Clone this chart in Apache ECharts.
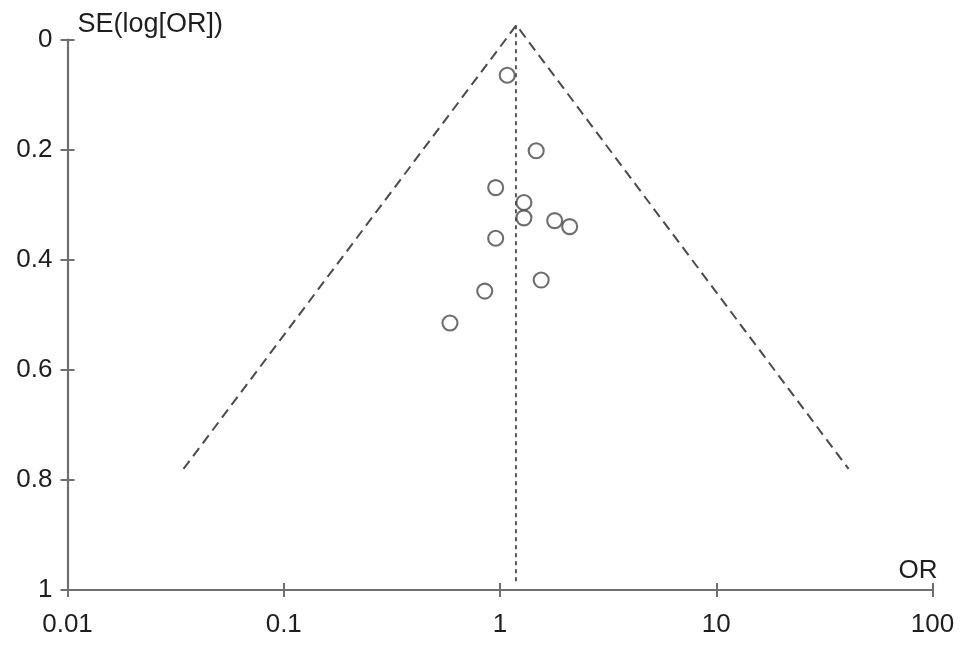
<!DOCTYPE html>
<html>
<head>
<meta charset="utf-8">
<script src="https://cdn.jsdelivr.net/npm/echarts@6/dist/echarts.min.js"></script>
<style>
html,body{margin:0;padding:0;background:#fff;}
#chart{width:969px;height:650px;}
</style>
</head>
<body>
<div id="chart"></div>
<script>
// Study estimates
const studyOR = [1.08, 1.47, 0.955, 1.29, 1.29, 1.79, 2.10, 0.955, 1.55, 0.85, 0.587];
const studySE = [0.065, 0.202, 0.269, 0.296, 0.324, 0.329, 0.340, 0.361, 0.437, 0.457, 0.515];
// Pooled estimate (vertical dotted line)
const pooledOR = 1.185;
const pooledLineSE = [-0.026, 0.99];
// Funnel (pseudo confidence limits)
const funnelOR = [0.0344, 1.19, 40.9];
const funnelSE = [0.78, -0.026, 0.78];
// Axis ticks
const xTicks = [0.01, 0.1, 1, 10, 100];
const yTicks = [0, 0.2, 0.4, 0.6, 0.8, 1];
const xName = 'OR';
const yName = 'SE(log[OR])';

const FONT = '"Liberation Sans", Arial, Helvetica, sans-serif';
const AXIS_COLOR = '#6f6f6f';
const TEXT_COLOR = '#1e1e1e';
const MARK_COLOR = '#4a4a4a';

const chart = echarts.init(document.getElementById('chart'), null, {renderer: 'canvas'});

const scatterData = studyOR.map((v, i) => [v, studySE[i]]);
const funnelData = funnelOR.map((v, i) => [v, funnelSE[i]]);
const pooledData = pooledLineSE.map(s => [pooledOR, s]);

const xBase = {
  type: 'log', logBase: 10,
  min: xTicks[0], max: xTicks[xTicks.length - 1],
  gridIndex: 0, position: 'bottom',
  splitLine: {show: false}
};
const yBase = {
  type: 'value', inverse: true,
  min: yTicks[0], max: yTicks[yTicks.length - 1], interval: 0.2,
  gridIndex: 0, position: 'left',
  splitLine: {show: false}
};

chart.setOption({
  animation: false,
  backgroundColor: '#fff',
  grid: {left: 67.5, right: 36.5, top: 39.5, bottom: 60, containLabel: false},
  xAxis: [
    Object.assign({}, xBase, {
      name: xName,
      nameLocation: 'end',
      nameGap: 5,
      nameTextStyle: {fontFamily: FONT, fontSize: 26, color: TEXT_COLOR, align: 'right', verticalAlign: 'bottom', padding: [0, 0, 6, 0]},
      axisLine: {show: true, onZero: false, lineStyle: {color: AXIS_COLOR, width: 2.2}},
      axisTick: {show: true, inside: false, length: 7, lineStyle: {color: AXIS_COLOR, width: 2}},
      axisLabel: {
        show: true, margin: 22, fontFamily: FONT, fontSize: 26, color: TEXT_COLOR,
        formatter: v => { const t = xTicks.find(k => Math.abs(Math.log10(k) - Math.log10(v)) < 1e-6); return t === undefined ? '' : String(t); }
      }
    }),
    Object.assign({}, xBase, {
      show: true,
      axisLine: {show: true, onZero: false, lineStyle: {color: 'rgba(0,0,0,0)', width: 1}},
      axisTick: {show: true, inside: true, length: 7, lineStyle: {color: AXIS_COLOR, width: 2}},
      axisLabel: {show: false}
    })
  ],
  yAxis: [
    Object.assign({}, yBase, {
      name: yName,
      nameLocation: 'start',
      nameGap: 15,
      nameTextStyle: {fontFamily: FONT, fontSize: 27, color: TEXT_COLOR, align: 'left', verticalAlign: 'middle', padding: [0, 0, 0, 10]},
      axisLine: {show: true, onZero: false, lineStyle: {color: AXIS_COLOR, width: 2.2}},
      axisTick: {show: true, inside: false, length: 7, lineStyle: {color: AXIS_COLOR, width: 2}},
      axisLabel: {show: true, margin: 15, fontFamily: FONT, fontSize: 26, color: TEXT_COLOR}
    }),
    Object.assign({}, yBase, {
      show: true,
      axisLine: {show: true, onZero: false, lineStyle: {color: 'rgba(0,0,0,0)', width: 1}},
      axisTick: {show: true, inside: true, length: 7, lineStyle: {color: AXIS_COLOR, width: 2}},
      axisLabel: {show: false}
    })
  ],
  series: [
    {
      type: 'line', xAxisIndex: 0, yAxisIndex: 0,
      data: funnelData, clip: false, symbol: 'none', silent: true,
      lineStyle: {color: MARK_COLOR, width: 2, type: [10, 6]}
    },
    {
      type: 'line', xAxisIndex: 0, yAxisIndex: 0,
      data: pooledData, clip: false, symbol: 'none', silent: true,
      lineStyle: {color: MARK_COLOR, width: 1.8, type: [4, 4]}
    },
    {
      type: 'scatter', xAxisIndex: 0, yAxisIndex: 0,
      data: scatterData, symbol: 'circle', symbolSize: 15, silent: true,
      itemStyle: {color: 'rgba(255,255,255,0)', borderColor: MARK_COLOR, borderWidth: 2.1}
    }
  ]
});
</script>
</body>
</html>
